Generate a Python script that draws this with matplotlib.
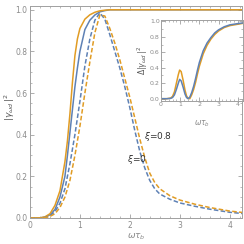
import numpy as np
import matplotlib.pyplot as plt
from matplotlib.ticker import MultipleLocator

# main panel: omega*tau_b grid and |gamma|^2
w = [0.0, 0.2, 0.3, 0.4, 0.5, 0.6, 0.7, 0.75, 0.8, 0.85, 0.9, 0.95, 1.0, 1.1, 1.2,
     1.3, 1.4, 1.5, 1.6, 1.7, 1.8, 1.9, 2.0, 2.1, 2.2, 2.3, 2.4, 2.5, 2.6, 2.8,
     3.0, 3.3, 3.6, 4.0, 4.3]
solid_xi0 = [0.0, 0.0, 0.004, 0.015, 0.04, 0.10, 0.20, 0.30, 0.41, 0.52, 0.63, 0.72, 0.80,
             0.905, 0.95, 0.975, 0.99, 0.996, 1.0, 1.0, 1.0, 1.0, 1.0, 1.0, 1.0, 1.0,
             1.0, 1.0, 1.0, 1.0, 1.0, 1.0, 1.0, 1.0, 1.0]
solid_xi08 = [0.0, 0.0, 0.005, 0.02, 0.06, 0.13, 0.27, 0.37, 0.50, 0.65, 0.78, 0.86, 0.91,
              0.955, 0.976, 0.988, 0.995, 0.998, 1.0, 1.0, 1.0, 1.0, 1.0, 1.0, 1.0, 1.0,
              1.0, 1.0, 1.0, 1.0, 1.0, 1.0, 1.0, 1.0, 1.0]
dash_xi0 = [0.0, 0.0, 0.002, 0.01, 0.03, 0.07, 0.14, 0.20, 0.26, 0.33, 0.40, 0.48, 0.56,
            0.73, 0.86, 0.95, 0.985, 0.955, 0.88, 0.80, 0.72, 0.63, 0.53, 0.42, 0.32,
            0.24, 0.18, 0.14, 0.115, 0.09, 0.072, 0.056, 0.042, 0.027, 0.02]
dash_xi08 = [0.0, 0.0, 0.001, 0.007, 0.02, 0.05, 0.10, 0.14, 0.18, 0.24, 0.30, 0.37, 0.44,
             0.60, 0.75, 0.89, 0.975, 0.97, 0.91, 0.84, 0.76, 0.67, 0.58, 0.48, 0.38,
             0.29, 0.215, 0.17, 0.14, 0.107, 0.086, 0.066, 0.05, 0.033, 0.025]

# inset: difference
wi = [0.0, 0.3, 0.5, 0.6, 0.7, 0.8, 0.9, 0.97, 1.05, 1.15, 1.25, 1.33, 1.41, 1.5, 1.6,
      1.7, 1.8, 1.9, 2.0, 2.2, 2.4, 2.6, 2.8, 3.0, 3.3, 3.6, 4.0, 4.3]
diff_xi0 = [0.0, 0.0, 0.004, 0.015, 0.05, 0.12, 0.20, 0.25, 0.23, 0.15, 0.06, 0.015, 0.0,
            0.02, 0.08, 0.16, 0.26, 0.37, 0.47, 0.62, 0.72, 0.79, 0.85, 0.89, 0.93,
            0.955, 0.97, 0.98]
diff_xi08 = [0.0, 0.0, 0.008, 0.03, 0.09, 0.20, 0.31, 0.37, 0.35, 0.24, 0.11, 0.035, 0.005,
             0.0, 0.05, 0.12, 0.21, 0.32, 0.42, 0.58, 0.69, 0.77, 0.83, 0.875, 0.92,
             0.945, 0.962, 0.975]

blue = '#5E81B5'
orange = '#E19C24'
grey = '#8a8a8a'

fig = plt.figure(figsize=(2.44, 2.44), dpi=100)
ax = fig.add_axes([0.123, 0.107, 0.869, 0.870])

ax.plot(w, solid_xi0, color=blue, lw=1.1)
ax.plot(w, solid_xi08, color=orange, lw=1.1)
ax.plot(w, dash_xi0, color=blue, lw=1.1, ls=(0, (3, 1.5)))
ax.plot(w, dash_xi08, color=orange, lw=1.1, ls=(0, (3, 1.5)))

ax.set_xlim(0, 4.25)
ax.set_ylim(0, 1.02)
ax.xaxis.set_major_locator(MultipleLocator(1))
ax.xaxis.set_minor_locator(MultipleLocator(0.2))
ax.set_yticks([0, 0.2, 0.4, 0.6, 0.8, 1.0])
ax.set_yticklabels(['0.0', '0.2', '0.4', '0.6', '0.8', '1.0'])
ax.yaxis.set_minor_locator(MultipleLocator(0.05))


def style(a, fs):
    for s in a.spines.values():
        s.set_color('#a0a0a0')
        s.set_linewidth(0.7)
    a.tick_params(which='both', direction='in', top=True, right=True,
                  colors='#a0a0a0', labelcolor=grey, labelsize=fs, pad=2)
    a.tick_params(which='major', length=3, width=0.6)
    a.tick_params(which='minor', length=1.5, width=0.5)


style(ax, 5.5)
ax.set_xlabel(r'$\omega\tau_b$', color=grey, fontsize=6.5)
ax.xaxis.set_label_coords(0.5, -0.066)
ax.set_ylabel(r'$|\gamma_{\omega d}\,|^2$', color='#555555', fontsize=6.5)
ax.yaxis.set_label_coords(-0.06, 0.52)

ax.text(2.28, 0.39, r'$\xi$=0.8', fontsize=6.5, color='#333333', va='center')
ax.text(1.94, 0.28, r'$\xi$=0', fontsize=6.5, color='#333333', va='center')

ins = fig.add_axes([0.66, 0.586, 0.334, 0.333])
ins.plot(wi, diff_xi08, color=orange, lw=1.1)
ins.plot(wi, diff_xi0, color=blue, lw=1.1)
ins.set_xlim(0, 4.25)
ins.set_ylim(-0.03, 1.02)
ins.xaxis.set_major_locator(MultipleLocator(1))
ins.xaxis.set_minor_locator(MultipleLocator(0.2))
ins.set_yticks([0, 0.2, 0.4, 0.6, 0.8, 1.0])
ins.set_yticklabels(['0.0', '0.2', '0.4', '0.6', '0.8', '1.0'])
ins.yaxis.set_minor_locator(MultipleLocator(0.1))
style(ins, 4.5)
ins.tick_params(pad=1)
ins.set_xlabel(r'$\omega\tau_b$', color=grey, fontsize=5.5)
ins.xaxis.set_label_coords(0.5, -0.22)
ins.set_ylabel(r'$\Delta|\gamma_{\omega d}\,|^2$', color='#555555', fontsize=5.5)
ins.yaxis.set_label_coords(-0.13, 0.5)

fig.savefig('out.png', dpi=100)
